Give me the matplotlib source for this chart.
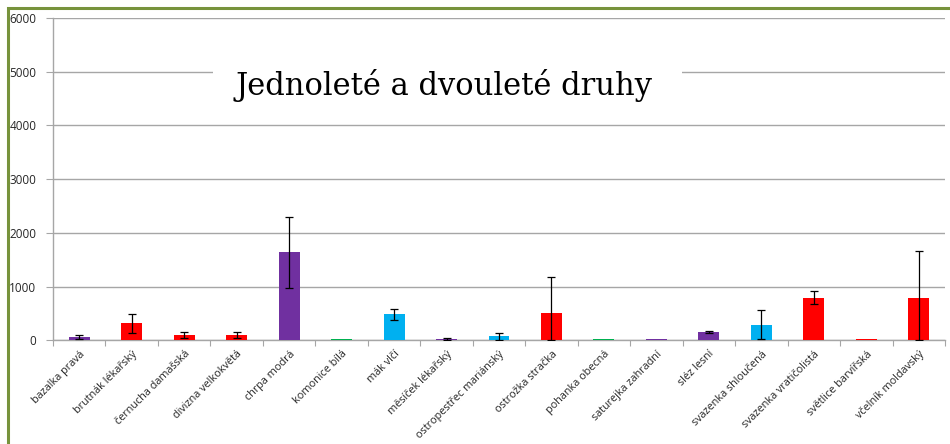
import matplotlib
matplotlib.use("Agg")
import matplotlib.pyplot as plt
from matplotlib.patches import Rectangle

categories = ["bazalka pravá", "brutnák lékařský", "černucha damašská", "divizna velkokvětá",
              "chrpa modrá", "komonice bílá", "mák vlčí", "měsíček lékařský",
              "ostropestřec mariánský", "ostrožka stračka", "pohanka obecná",
              "saturejka zahradní", "sléz lesní", "svazenka shloučená",
              "svazenka vratičolistá", "světlice barvířská", "včelník moldavský"]
values = [60, 315, 95, 95, 1640, 15, 485, 20, 75, 500, 15, 15, 160, 290, 790, 15, 790]
errors = [45, 170, 60, 60, 660, 0, 100, 15, 65, 670, 0, 0, 15, 265, 120, 0, 870]
groups = ["p", "r", "r", "r", "p", "g", "b", "p", "b", "r", "g", "p", "p", "b", "r", "r", "r"]
palette = {"p": "#7030A0", "r": "#FF0000", "b": "#00B0F0", "g": "#00B050"}
yticks = [0, 1000, 2000, 3000, 4000, 5000, 6000]
title = "Jednoleté a dvouleté druhy"

fig = plt.figure(figsize=(9.5, 4.44), dpi=100)
fig.patch.set_facecolor("white")
# green border (extends beyond right/bottom edges)
fig.patches.append(Rectangle((8/950, -0.05), 1.1, 1 - 8/444 + 0.05, transform=fig.transFigure,
                             fill=False, edgecolor="#77933C", linewidth=2.2, zorder=0))

ax = fig.add_axes([53/950, 1 - 340.3/444, (945 - 53)/950, (340.3 - 18)/444])
x = list(range(len(categories)))
colors = [palette[g] for g in groups]
lower = [min(e, v) for v, e in zip(values, errors)]
ax.bar(x, values, width=0.4, color=colors, zorder=3)
ax.errorbar([xi for xi, e in zip(x, errors) if e > 0],
            [v for v, e in zip(values, errors) if e > 0],
            yerr=[[l for l, e in zip(lower, errors) if e > 0], [e for e in errors if e > 0]],
            fmt="none", ecolor="black", elinewidth=0.9, capsize=3, capthick=0.9, zorder=4)

ax.set_xlim(-0.5, len(categories) - 0.5)
ax.set_ylim(0, 6000)
ax.set_yticks(yticks)
ax.set_yticklabels([str(t) for t in yticks], fontsize=8.5, color="#262626", family="Open Sans")
ax.yaxis.grid(True, color="#A6A6A6", linewidth=1.0, zorder=0)
ax.set_axisbelow(True)
ax.tick_params(axis="y", length=5, color="#A6A6A6", pad=7)
ax.set_xticks([i - 0.5 for i in range(len(categories) + 1)], minor=False)
ax.set_xticklabels([""] * (len(categories) + 1))
ax.tick_params(axis="x", length=4, color="#A6A6A6", direction="out")
ax.set_xticks(x, minor=True)
ax.set_xticklabels(categories, minor=True, rotation=45, ha="right", rotation_mode="anchor",
                   fontsize=7.8, color="#262626", family="Open Sans")
ax.tick_params(axis="x", which="minor", length=0, pad=6)
for s in ["top", "right"]:
    ax.spines[s].set_visible(False)
ax.spines["left"].set_color("#A6A6A6")
ax.spines["bottom"].set_color("#A6A6A6")
ax.spines["left"].set_linewidth(1.0)
ax.spines["bottom"].set_linewidth(1.0)

# white box covering the 5000 gridline behind title
fig.patches.append(Rectangle((213/950, 1 - 100/444), (682 - 213)/950, 32/444,
                             transform=fig.transFigure, facecolor="white", edgecolor="none",
                             zorder=5))
fig.text(444/950, 1 - 86/444, title, ha="center", va="center", fontsize=22,
         family="DejaVu Serif", color="black", zorder=6)

fig.savefig("out.png", dpi=100)
